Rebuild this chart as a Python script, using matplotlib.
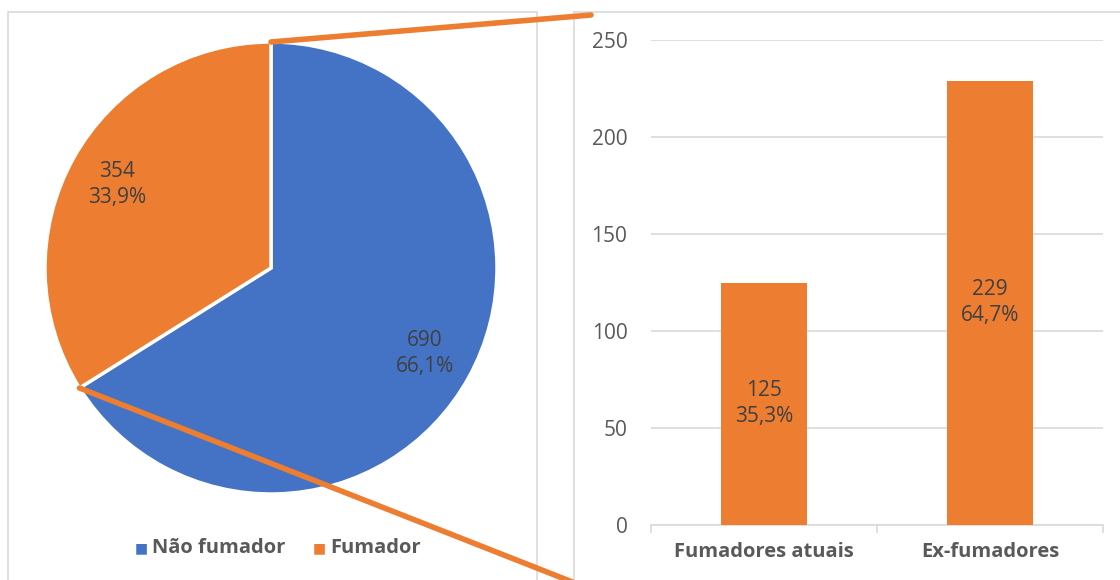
import matplotlib.pyplot as plt
from matplotlib.patches import Rectangle, ConnectionPatch
import numpy as np

plt.rcParams['font.family'] = ['Open Sans', 'DejaVu Sans']

pie_labels = ['Não fumador', 'Fumador']
pie_values = [690, 354]
pie_pct = ['66,1%', '33,9%']
bar_cats = ['Fumadores atuais', 'Ex-fumadores']
bar_values = [125, 229]
bar_pct = ['35,3%', '64,7%']

blue = '#4472c4'
orange = '#ed7d31'
txt = '#404040'
grid = '#d9d9d9'

fig = plt.figure(figsize=(11.2, 5.8), dpi=100)

# panel frames
fig.add_artist(Rectangle((8/1120, -0.1), 529/1120, 1.1 - 12/580, transform=fig.transFigure,
                         fill=False, edgecolor=grid, lw=1.2, zorder=0))
fig.add_artist(Rectangle((574/1120, -0.1), 0.6, 1.1 - 12/580, transform=fig.transFigure,
                         fill=False, edgecolor=grid, lw=1.2, zorder=0))

# pie
ax1 = fig.add_axes([45/1120, 86/580, 452/1120, 452/580])
wedges, _ = ax1.pie(pie_values, colors=[blue, orange], startangle=90, counterclock=False,
                    radius=1, wedgeprops=dict(edgecolor='white', linewidth=2.5))
ax1.set_xlim(-1, 1)
ax1.set_ylim(-1, 1)
ax1.set_aspect('equal')

ax1.text(0.68, -0.38, f'{pie_values[0]}\n{pie_pct[0]}', ha='center', va='center',
         fontsize=15, color=txt, linespacing=1.3)
ax1.text(-0.68, 0.37, f'{pie_values[1]}\n{pie_pct[1]}', ha='center', va='center',
         fontsize=15, color=txt, linespacing=1.3)

# legend
for lab, col, x in zip(pie_labels, [blue, orange], [135/1120, 313/1120]):
    fig.text(x, 32/580, '■', color=col, fontsize=10, ha='left', va='center',
             family=['DejaVu Sans'])
    fig.text(x + 17/1120, 32/580, lab, color='#595959', fontsize=14.5, fontweight='bold',
             ha='left', va='center')

# bars
ax2 = fig.add_axes([651/1120, 55/580, 452/1120, 485/580])
x = np.arange(len(bar_cats))
ax2.bar(x, bar_values, width=0.38, color=orange, zorder=3)
for xi, v, p in zip(x, bar_values, bar_pct):
    ax2.text(xi, v / 2, f'{v}\n{p}', ha='center', va='center', fontsize=15,
             color=txt, linespacing=1.3, zorder=4)
ax2.set_xlim(-0.5, 1.5)
ax2.set_ylim(0, 250)
ax2.set_yticks(range(0, 251, 50))
ax2.yaxis.grid(True, color=grid, lw=1.2)
ax2.set_axisbelow(True)
for s in ['top', 'right', 'left']:
    ax2.spines[s].set_visible(False)
ax2.spines['bottom'].set_color(grid)
ax2.spines['bottom'].set_linewidth(1.2)
ax2.set_xticks(x)
ax2.set_xticklabels(bar_cats, fontsize=14.5, fontweight='bold', color='#595959')
ax2.set_xticks([-0.5, 0.5, 1.5], minor=True)
ax2.tick_params(axis='x', which='major', length=0, pad=12)
ax2.tick_params(axis='x', which='minor', length=6, color=grid, width=1.2)
ax2.tick_params(axis='y', length=0, labelsize=15, labelcolor='#595959', pad=17)

# connector lines
total = sum(pie_values)
top_pt = (0, 1)
ang = np.deg2rad(90 + 360 * pie_values[1] / total)
bot_pt = (np.cos(ang), np.sin(ang))
for pt, fp in [(top_pt, (591/1120, 565/580)), (bot_pt, (582/1120, -0.01))]:
    con = ConnectionPatch(xyA=pt, coordsA=ax1.transData, xyB=fp, coordsB=fig.transFigure,
                          color=orange, lw=4)
    fig.add_artist(con)

fig.savefig('out.png', dpi=100)
